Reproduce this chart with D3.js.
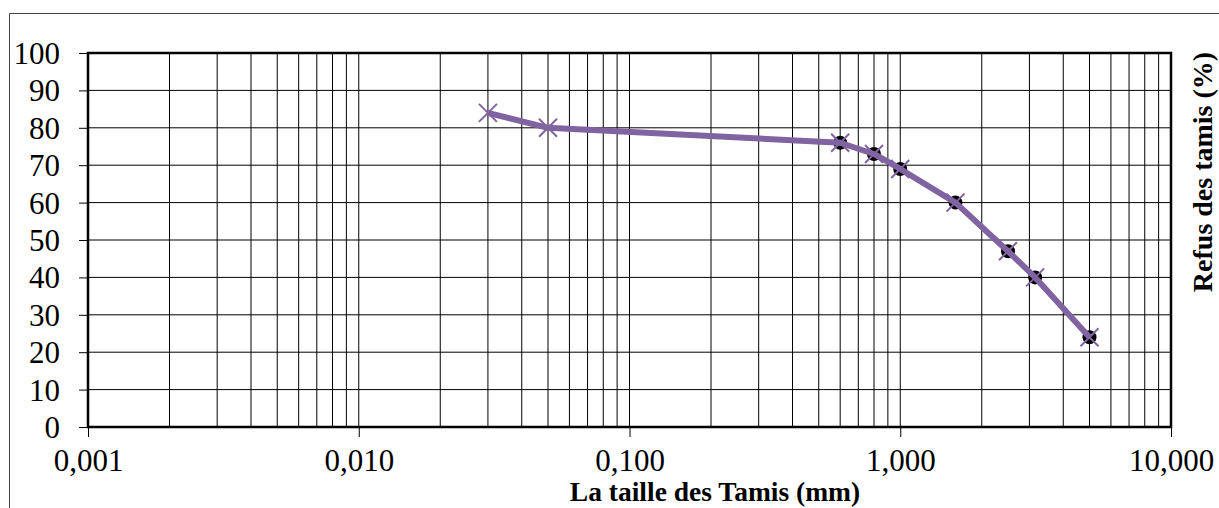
<!DOCTYPE html>
<html><head><meta charset="utf-8">
<script src="https://cdn.jsdelivr.net/npm/d3@7"></script>
<style>
html,body{margin:0;padding:0;background:#fff;}
svg{display:block;}
text{font-family:"Liberation Serif","Times New Roman",serif;fill:#000;}
</style></head>
<body>
<svg id="c" width="1219" height="508"></svg>
<script>
// Data
const sieveSizes = [0.03, 0.05, 0.6, 0.8, 1.0, 1.6, 2.5, 3.15, 5];
const refus = [84, 80, 76, 73, 69, 60, 47, 40, 24];
const circleSizes = [0.6, 0.8, 1.0, 1.6, 2.5, 3.15, 5];
const circleRefus = [76, 73, 69, 60, 47, 40, 24];
const xTickValues = [0.001, 0.01, 0.1, 1, 10];
const xTickLabels = ["0,001", "0,010", "0,100", "1,000", "10,000"];
const yTickValues = [0, 10, 20, 30, 40, 50, 60, 70, 80, 90, 100];
const xTitle = "La taille des Tamis (mm)";
const yTitle = "Refus des tamis (%)";

const svg = d3.select("#c");
const L = 88, R = 1171, T = 53, B = 427;
const x = d3.scaleLog().domain([0.001, 10]).range([L, R]);
const y = d3.scaleLinear().domain([0, 100]).range([B, T]);

// outer frame
svg.append("path").attr("d", "M9.5,508 V13.5 H1219").attr("fill", "none").attr("stroke", "#444").attr("stroke-width", 1);

// minor/major vertical grid
const vgrid = [];
for (let e = -3; e < 1; e++) for (let m = 1; m <= 9; m++) vgrid.push(m * Math.pow(10, e));
vgrid.push(10);
svg.append("g").selectAll("line").data(vgrid).join("line")
  .attr("x1", d => x(d)).attr("x2", d => x(d)).attr("y1", T).attr("y2", B)
  .attr("stroke", "#000").attr("stroke-width", 1);
svg.append("g").selectAll("line").data(yTickValues).join("line")
  .attr("x1", L).attr("x2", R).attr("y1", d => y(d)).attr("y2", d => y(d))
  .attr("stroke", "#000").attr("stroke-width", 1);

// axes
const yAxis = d3.axisLeft(y).tickValues(yTickValues).tickSize(9).tickPadding(19).tickFormat(d3.format("d"));
const gy = svg.append("g").attr("transform", `translate(${L},0)`).call(yAxis);
gy.select(".domain").remove();
gy.selectAll("text").style("font-size", "31px").attr("dy", "0.34em");

const xAxis = d3.axisBottom(x).tickValues(xTickValues).tickSize(10).tickPadding(12).tickFormat((d, i) => xTickLabels[i]);
const gx = svg.append("g").attr("transform", `translate(0,${B})`).call(xAxis);
gx.select(".domain").remove();
gx.selectAll("text").style("font-size", "31px").attr("dy", "0.71em");

// plot border
svg.append("rect").attr("x", L).attr("y", T).attr("width", R - L).attr("height", B - T)
  .attr("fill", "none").attr("stroke", "#000").attr("stroke-width", 2.5);

// titles
svg.append("text").attr("x", 715).attr("y", 501).attr("text-anchor", "middle")
  .style("font-size", "27.5px").style("font-weight", "bold").text(xTitle);
svg.append("text").attr("transform", "translate(1212,172) rotate(-90)").attr("text-anchor", "middle")
  .style("font-size", "28px").style("font-weight", "bold").text(yTitle);

// black circles
svg.append("g").selectAll("circle").data(circleSizes).join("circle")
  .attr("cx", d => x(d)).attr("cy", (d, i) => y(circleRefus[i])).attr("r", 7).attr("fill", "#000");

// line
const pts = sieveSizes.map((s, i) => [x(s), y(refus[i])]);
svg.append("path").attr("d", d3.line()(pts)).attr("fill", "none")
  .attr("stroke", "#8064A2").attr("stroke-width", 6).attr("stroke-linejoin", "round");

// X markers
const xm = svg.append("g");
sieveSizes.forEach((s, i) => {
  const cx = x(s), cy = y(refus[i]), k = 9;
  xm.append("path").attr("d", `M${cx-k},${cy-k}L${cx+k},${cy+k}M${cx-k},${cy+k}L${cx+k},${cy-k}`)
    .attr("stroke", "#8064A2").attr("stroke-width", 2).attr("fill", "none");
});
</script>
</body></html>
